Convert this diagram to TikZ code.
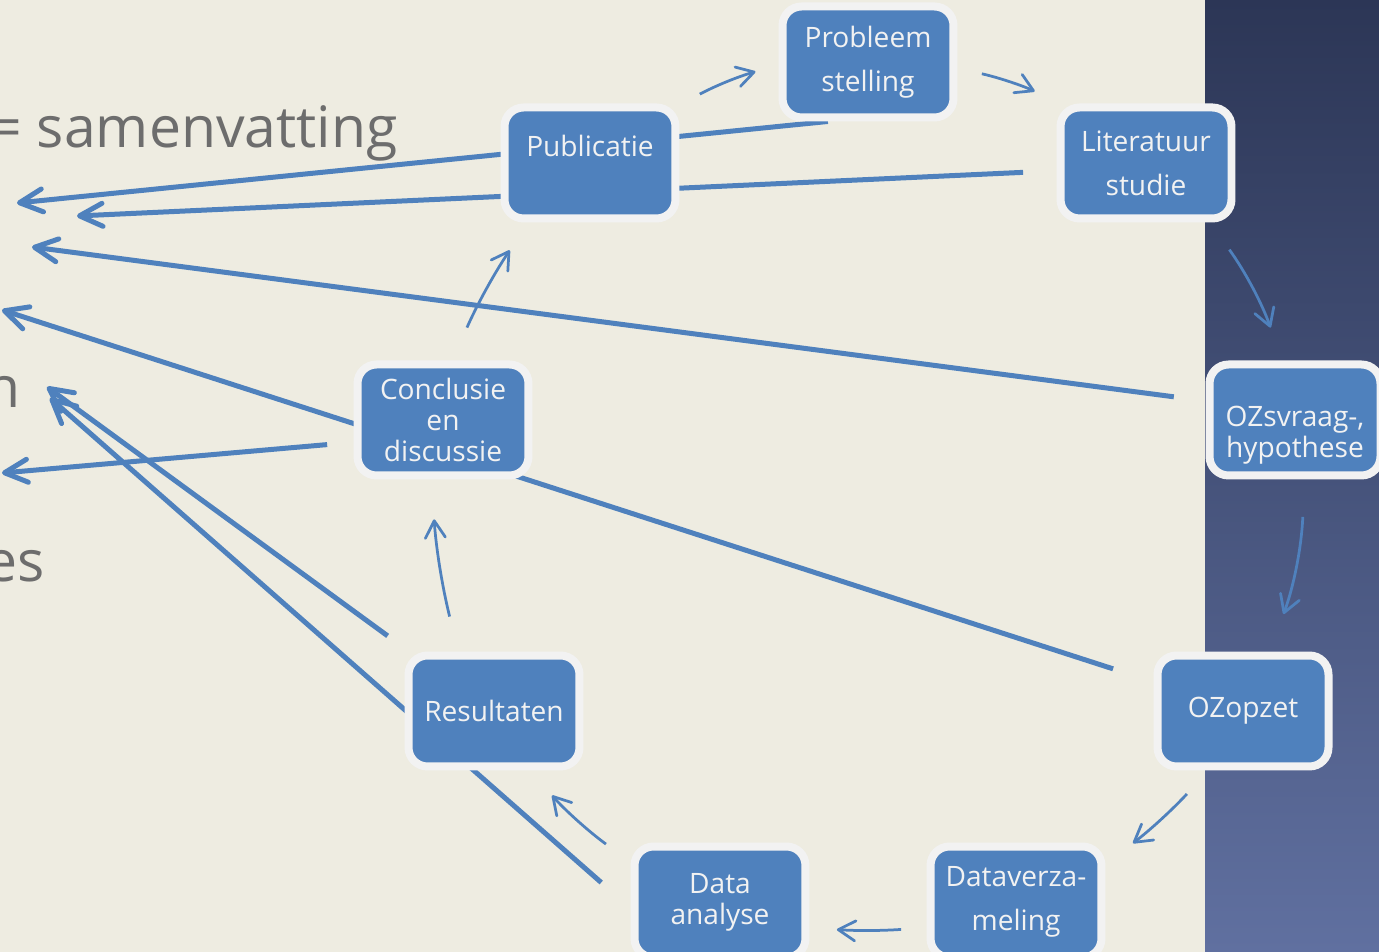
\documentclass[tikz,border=0pt]{standalone}
\usepackage{fontspec}
\setmainfont{Open Sans}
\usetikzlibrary{arrows.meta}

\definecolor{paper}{RGB}{238,236,225}
\definecolor{boxblue}{RGB}{79,129,189}
\definecolor{boxrim}{RGB}{242,242,242}
\definecolor{greytext}{RGB}{109,109,109}
\definecolor{stripTop}{RGB}{44,54,86}
\definecolor{stripBot}{RGB}{96,112,160}

\pgfdeclarelayer{back}
\pgfdeclarelayer{links}
\pgfsetlayers{back,links,main}

\tikzset{
	stage/.style={draw=boxrim, line width=0.16cm, fill=boxblue, rounded corners=0.38cm,
		minimum width=3.42cm, minimum height=2.22cm, inner sep=2pt,
		text=boxrim, align=center, font=\fontsize{16}{25}\selectfont},
	tight/.style={font=\fontsize{16}{17.6}\selectfont},
	jump/.style={draw=boxblue, line width=0.1cm,
		-{Straight Barb[length=0.46cm,width=0.46cm,round]}},
	flow/.style={draw=boxblue, line width=0.055cm,
		-{Straight Barb[length=0.34cm,width=0.4cm,round]}},
	big/.style={text=greytext, font=\fontsize{32.5}{39}\selectfont, inner sep=0pt, anchor=base east}
}

\begin{document}
\begin{tikzpicture}[x=0.02cm, y=0.02cm]
	\useasboundingbox (0,0) rectangle (1379,952);
	
	% cycle
	\node[stage] (prob) at (868,890) {Probleem\\stelling};
	\node[stage] (lit) at (1146,789) {Literatuur\\studie};
	\node[stage, label={[text=boxrim, tight, align=center, yshift=-0.3cm]center:{OZsvraag-,\\hypothese}}] (ozs) at (1295,532) {};
	\node[stage] (ozo) at (1243,241) {OZopzet};
	\node[stage] (dverz) at (1016,50) {Dataverza-\\meling};
	\node[stage, tight] (dana) at (720,50) {Data\\analyse};
	\node[stage] (res) at (494,241) {Resultaten};
	\node[stage, tight] (conc) at (443,532) {Conclusie\\en\\discussie};
	\node[stage, text depth=20pt] (pub) at (590,789) {Publicatie};
	
	% text on the left
	\node[big] (sam) at (398,804) {= samenvatting};
	\node[big] (endn) at (21,544) {n};
	\node[big] (endes) at (45,370) {es};
	
	\coordinate (tA) at (17,749);
	\coordinate (tB) at (77,736);
	\coordinate (tC) at (32,705);
	\coordinate (tD) at (2,642);
	\coordinate (tE) at (2,479);
	\coordinate (tF) at (47,565);
	\coordinate (tG) at (50,554);
	
	\begin{pgfonlayer}{back}
		\fill[paper] (0,0) rectangle (1379,952);
		\shade[top color=stripTop, bottom color=stripBot] (1205,0) rectangle (1379,952);
	\end{pgfonlayer}
	
	\begin{pgfonlayer}{links}
		\draw[jump] (prob.236) -- (tA);
		\draw[jump, shorten <=0.67cm] (lit.185) -- (tB);
		\draw[jump, shorten <=0.64cm] (ozs.168) -- (tC);
		\draw[jump, shorten <=0.85cm] (ozo.162) -- (tD);
		\draw[jump, shorten <=0.53cm] (conc.194) -- (tE);
		\draw[jump, shorten <=0.53cm] (res.145) -- (tF);
		\draw[jump, shorten <=0.78cm] (dana.184) -- (tG);
		
		\draw[flow, shorten <=0.46cm, shorten >=0.48cm] (pub.33) to[bend left=6] (prob.182);
		\draw[flow, shorten <=0.5cm, shorten >=0.58cm] (prob.-4) to[bend left=6] (lit.145);
		\draw[flow, shorten <=0.67cm, shorten >=0.7cm] (lit.-43) to[bend left=8] (ozs.102);
		\draw[flow, shorten <=0.75cm, shorten >=0.8cm] (ozs.-81) to[bend left=9] (ozo.66);
		\draw[flow, shorten <=0.64cm, shorten >=0.69cm] (ozo.-120) to[bend left=5] (dverz.23);
		\draw[flow, shorten <=0.51cm, shorten >=0.55cm] (dverz.196) to[bend left=4] (dana.-16);
		\draw[flow, shorten <=0.61cm, shorten >=0.67cm] (dana.156) to[bend left=6] (res.-59);
		\draw[flow, shorten <=0.72cm, shorten >=0.8cm] (res.121) to[bend left=5] (conc.-101);
		\draw[flow, shorten <=0.72cm, shorten >=0.67cm] (conc.81) to[bend left=5] (pub.224);
	\end{pgfonlayer}
\end{tikzpicture}
\end{document}
